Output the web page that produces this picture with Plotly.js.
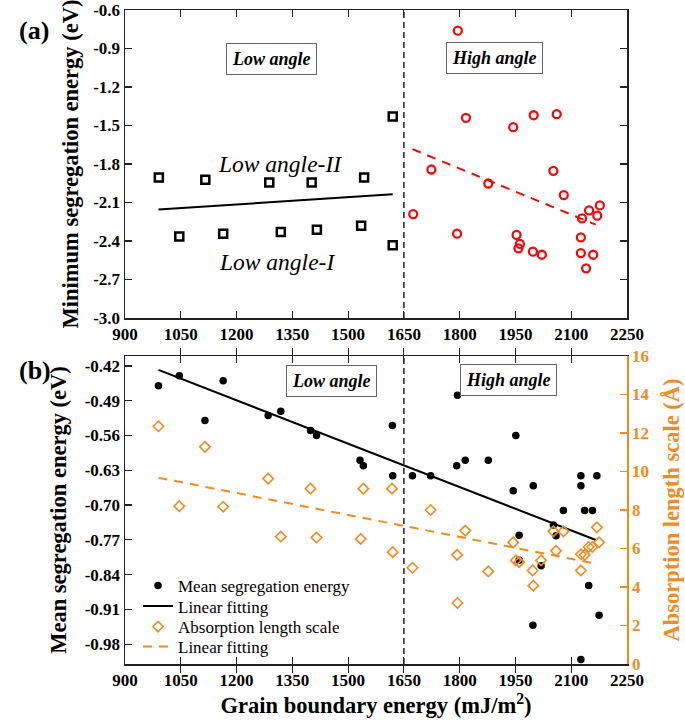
<!DOCTYPE html>
<html>
<head>
<meta charset="utf-8">
<script src="https://cdn.plot.ly/plotly-3.0.1.min.js"></script>
<style>html,body{margin:0;padding:0;background:#fff;}#chart{width:685px;height:724px;}</style>
</head>
<body>
<div id="chart"></div>
<script>
// ---------- Panel (a): minimum segregation energy ----------
const lowAngleEnergy = [991, 1046, 1116, 1164, 1288, 1319, 1402, 1416, 1535, 1543, 1620, 1620];
const lowAngleMinSeg = [-1.905, -2.364, -1.923, -2.343, -1.944, -2.330, -1.944, -2.312, -2.281, -1.905, -1.430, -2.434];
const lowFitEnergy = [990, 1620];
const lowFitMinSeg = [-2.155, -2.035];

const highAngleEnergy = [1675, 1724, 1793, 1795, 1817, 1877, 1944, 1953, 1958, 1962, 1997, 1999, 2021, 2052, 2061, 2080, 2126, 2126, 2129, 2140, 2148, 2159, 2170, 2177];
const highAngleMinSeg = [-2.190, -1.843, -2.343, -0.761, -1.440, -1.952, -1.513, -2.353, -2.457, -2.423, -2.483, -1.420, -2.507, -1.853, -1.412, -2.042, -2.372, -2.494, -2.224, -2.613, -2.162, -2.507, -2.203, -2.123];
const highFitEnergy = [1673, 2166];
const highFitMinSeg = [-1.684, -2.273];

// ---------- Panel (b): mean segregation energy & absorption length ----------
const meanEnergy = [990, 1046, 1115, 1164, 1285, 1319, 1399, 1415, 1532, 1541, 1619, 1620,
                    1673, 1722, 1792, 1794, 1815, 1877, 1944, 1951, 1960, 1960, 1997, 1998, 2019, 2052, 2059, 2079, 2126, 2126, 2126, 2136, 2147, 2157, 2169, 2175];
const meanSeg = [-0.460, -0.440, -0.530, -0.450, -0.520, -0.511, -0.550, -0.560, -0.610, -0.621, -0.540, -0.641,
                 -0.641, -0.641, -0.621, -0.479, -0.610, -0.610, -0.671, -0.560, -0.761, -0.811, -0.942, -0.661, -0.822, -0.740, -0.762, -0.711, -0.641, -0.661, -1.011, -0.711, -0.862, -0.711, -0.641, -0.922];
const meanFitEnergy = [990, 2168];
const meanFitSeg = [-0.428, -0.771];

const absEnergy = [990, 1046, 1115, 1164, 1285, 1319, 1399, 1415, 1534, 1541, 1618, 1620,
                   1673, 1722, 1793, 1794, 1815, 1877, 1944, 1951, 1960, 1996, 1998, 2019, 2052, 2059, 2079, 2126, 2126, 2136, 2147, 2157, 2169, 2175];
const absLength = [12.35, 8.20, 11.28, 8.17, 9.63, 6.62, 9.11, 6.57, 6.50, 9.11, 9.11, 5.81,
                   5.00, 8.00, 5.67, 3.17, 6.93, 4.81, 6.32, 5.38, 5.29, 4.86, 4.07, 5.38, 6.89, 5.88, 6.89, 5.70, 4.86, 5.67, 6.08, 6.08, 7.10, 6.32];
const absFitEnergy = [990, 2159];
const absFitLength = [9.68, 5.24];

// ---------- Ticks ----------
const xTickVals = [900, 1050, 1200, 1350, 1500, 1650, 1800, 1950, 2100, 2250];
const topYTickVals = [-3.0, -2.7, -2.4, -2.1, -1.8, -1.5, -1.2, -0.9, -0.6];
const topYTickText = ["-3.0", "-2.7", "-2.4", "-2.1", "-1.8", "-1.5", "-1.2", "-0.9", "-0.6"];
const botYTickVals = [-0.98, -0.91, -0.84, -0.77, -0.70, -0.63, -0.56, -0.49, -0.42];
const botYTickText = ["-0.98", "-0.91", "-0.84", "-0.77", "-0.70", "-0.63", "-0.56", "-0.49", "-0.42"];
const rightTickVals = [0, 2, 4, 6, 8, 10, 12, 14, 16];
const boundaryEnergy = 1650;

const ORANGE = '#F28A1E';
const RED = '#F00A0A';
const SERIF = 'Liberation Serif, Times New Roman, serif';

const traces = [
  {x: lowAngleEnergy, y: lowAngleMinSeg, xaxis: 'x', yaxis: 'y', mode: 'markers', showlegend: false,
   marker: {symbol: 'square-open', size: 8, color: '#000', line: {width: 2.5, color: '#000'}}},
  {x: lowFitEnergy, y: lowFitMinSeg, xaxis: 'x', yaxis: 'y', mode: 'lines', showlegend: false,
   line: {color: '#000', width: 2}},
  {x: highAngleEnergy, y: highAngleMinSeg, xaxis: 'x', yaxis: 'y', mode: 'markers', showlegend: false,
   marker: {symbol: 'circle-open', size: 8, color: RED, line: {width: 2.3, color: RED}}},
  {x: highFitEnergy, y: highFitMinSeg, xaxis: 'x', yaxis: 'y', mode: 'lines', showlegend: false,
   line: {color: RED, width: 2, dash: '9px,7px'}},

  {x: meanEnergy, y: meanSeg, xaxis: 'x2', yaxis: 'y2', mode: 'markers', name: 'Mean segregation energy',
   legend: 'legend', marker: {symbol: 'circle', size: 7.5, color: '#000'}},
  {x: meanFitEnergy, y: meanFitSeg, xaxis: 'x2', yaxis: 'y2', mode: 'lines', name: 'Linear fitting',
   legend: 'legend2', line: {color: '#000', width: 2}},
  {x: absEnergy, y: absLength, xaxis: 'x2', yaxis: 'y3', mode: 'markers', name: 'Absorption length scale',
   legend: 'legend3', marker: {symbol: 'diamond-open', size: 8, color: ORANGE, line: {width: 1.6, color: ORANGE}}},
  {x: absFitEnergy, y: absFitLength, xaxis: 'x2', yaxis: 'y3', mode: 'lines', name: 'Linear fitting',
   legend: 'legend4', line: {color: ORANGE, width: 2, dash: '9px,7px'}}
];

const tickFont = {family: SERIF, size: 17, color: '#000', weight: 'bold'};
const titleFont = {family: SERIF, size: 22.5, color: '#000', weight: 'bold'};
const xDom = [125/685, 627/685];
const topDom = [(724-318)/724, (724-10)/724];
const botDom = [(724-664)/724, (724-356)/724];

const xCommon = {
  range: [900, 2250], tickvals: xTickVals, ticks: 'inside', ticklen: 7, tickwidth: 1.2, tickcolor: '#222',
  showline: true, linecolor: '#222', linewidth: 1.5, mirror: 'allticks', showgrid: false, zeroline: false,
  tickfont: tickFont, domain: xDom, fixedrange: true
};

function legendAt(topPx) {
  return {x: 138/685, y: (724 - topPx)/724, xanchor: 'left', yanchor: 'top', bgcolor: 'rgba(0,0,0,0)',
          font: {family: SERIF, size: 17, color: '#000'}};
}

const layout = {
  width: 685, height: 724,
  margin: {l: 0, r: 0, t: 0, b: 0},
  paper_bgcolor: '#fff', plot_bgcolor: 'rgba(0,0,0,0)',
  font: {family: SERIF, color: '#000'},
  xaxis: Object.assign({}, xCommon, {anchor: 'y'}),
  yaxis: {
    domain: topDom, anchor: 'x', range: [-3.0, -0.6], tickvals: topYTickVals, ticktext: topYTickText,
    ticks: 'inside', ticklen: 7, tickwidth: 1.2, tickcolor: '#222', showline: true, linecolor: '#222', linewidth: 1.5,
    mirror: 'allticks', showgrid: false, zeroline: false, tickfont: tickFont,
    title: {text: 'Minimum segregation energy (eV)', font: titleFont, standoff: 8}
  },
  xaxis2: Object.assign({}, xCommon, {anchor: 'y2',
    title: {text: 'Grain boundary energy (mJ/m<sup>2</sup>)', font: titleFont, standoff: 8}}),
  yaxis2: {
    domain: botDom, anchor: 'x2', range: [-1.02, -0.40], tickvals: botYTickVals, ticktext: botYTickText,
    ticks: 'inside', ticklen: 7, tickwidth: 1.2, tickcolor: '#222', showline: true, linecolor: '#222', linewidth: 1.5,
    mirror: false, showgrid: false, zeroline: false, tickfont: tickFont,
    title: {text: 'Mean segregation energy (eV)', font: titleFont, standoff: 12}
  },
  yaxis3: {
    domain: botDom, anchor: 'x2', overlaying: 'y2', side: 'right', range: [0, 16], tickvals: rightTickVals,
    ticks: 'inside', ticklen: 7, tickwidth: 1.2, tickcolor: ORANGE, showline: true, linecolor: ORANGE, linewidth: 1.5,
    showgrid: false, zeroline: false, tickfont: Object.assign({}, tickFont, {color: ORANGE}),
    title: {text: 'Absorption length scale (Å)', font: Object.assign({}, titleFont, {color: ORANGE}), standoff: 15}
  },
  showlegend: true,
  legend: legendAt(568),
  legend2: legendAt(588.5),
  legend3: legendAt(609),
  legend4: legendAt(629),
  shapes: [
    {type: 'line', xref: 'x', yref: 'y domain', x0: boundaryEnergy, x1: boundaryEnergy, y0: 0, y1: 1,
     line: {color: '#222', width: 1.5, dash: '6px,4px'}},
    {type: 'line', xref: 'x2', yref: 'y2 domain', x0: boundaryEnergy, x1: boundaryEnergy, y0: 0, y1: 1,
     line: {color: '#222', width: 1.5, dash: '6px,4px'}}
  ],
  annotations: [
    {text: '<b><i>Low angle</i></b>', xref: 'paper', yref: 'paper', x: 271/685, y: (724-43)/724, showarrow: false,
     font: {family: SERIF, size: 18}, bordercolor: '#666', borderwidth: 1, borderpad: 5, bgcolor: '#fff'},
    {text: '<b><i>High angle</i></b>', xref: 'paper', yref: 'paper', x: 543/685, y: (724-42)/724, showarrow: false,
     font: {family: SERIF, size: 18}, bordercolor: '#666', borderwidth: 1, borderpad: 5, bgcolor: '#fff'},
    {text: '<b><i>Low angle</i></b>', xref: 'paper', yref: 'paper', x: 331/685, y: (724-380.5)/724, showarrow: false,
     font: {family: SERIF, size: 18}, bordercolor: '#666', borderwidth: 1, borderpad: 5, bgcolor: '#fff'},
    {text: '<b><i>High angle</i></b>', xref: 'paper', yref: 'paper', x: 557/685, y: (724-380)/724, showarrow: false,
     font: {family: SERIF, size: 18}, bordercolor: '#666', borderwidth: 1, borderpad: 5, bgcolor: '#fff'},
    {text: '<i>Low angle-II</i>', xref: 'paper', yref: 'paper', x: 280/685, y: (724-149)/724, showarrow: false,
     font: {family: SERIF, size: 23.5}},
    {text: '<i>Low angle-I</i>', xref: 'paper', yref: 'paper', x: 277/685, y: (724-262)/724, showarrow: false,
     font: {family: SERIF, size: 23.5}},
    {text: '<b>(a)</b>', xref: 'paper', yref: 'paper', x: 17/685, y: (724-14)/724, showarrow: false,
     font: {family: SERIF, size: 26}},
    {text: '<b>(b)</b>', xref: 'paper', yref: 'paper', x: 17/685, y: (724-370)/724, showarrow: false,
     font: {family: SERIF, size: 26}}
  ]
};

Plotly.newPlot('chart', traces, layout, {staticPlot: true, displayModeBar: false});
</script>
</body>
</html>
